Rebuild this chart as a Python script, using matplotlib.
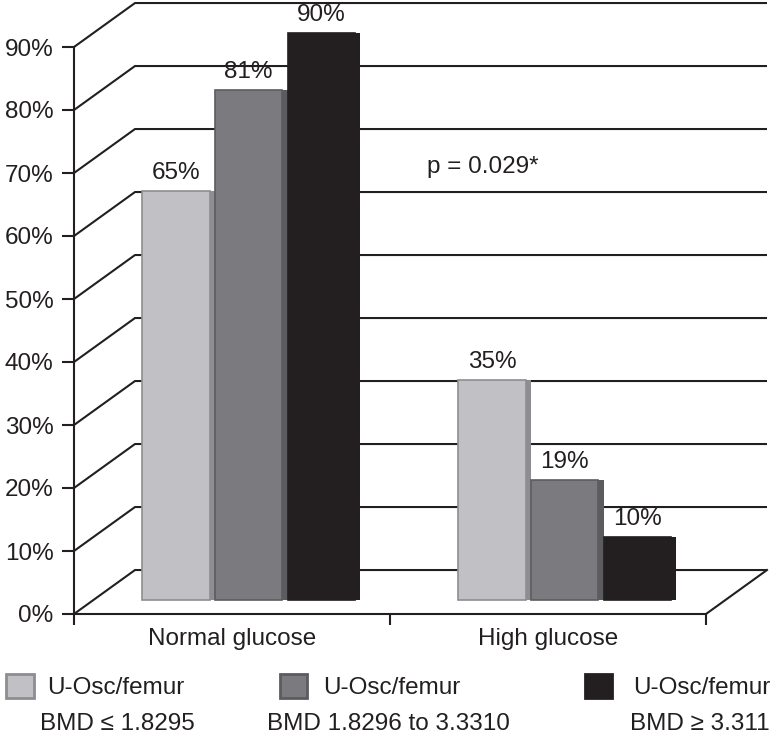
import matplotlib
matplotlib.use("Agg")
import matplotlib.pyplot as plt
from matplotlib.patches import Rectangle

plt.rcParams['font.family'] = ['Liberation Sans', 'DejaVu Sans']

# ---------------- data ----------------
categories = ['Normal glucose', 'High glucose']
series_line1 = ['U-Osc/femur', 'U-Osc/femur', 'U-Osc/femur']
series_line2 = ['BMD \u2264 1.8295', 'BMD 1.8296 to 3.3310', 'BMD \u2265 3.311']
values_low = [65, 35]
values_mid = [81, 19]
values_high = [90, 10]
y_ticks = [0, 10, 20, 30, 40, 50, 60, 70, 80, 90]
y_tick_labels = ['0%', '10%', '20%', '30%', '40%', '50%', '60%', '70%', '80%', '90%']
p_text = 'p = 0.029*'

# ---------------- style ----------------
INK = '#231f20'
face_colors = ['#c1c1c5', '#7b7b7f', '#231f20']
side_colors = ['#8e8e92', '#5c5c60', '#231f20']
FS = 17.5
LW = 1.5

W, H = 773, 739
fig = plt.figure(figsize=(W / 100, H / 100), dpi=100)
ax = fig.add_axes([74 / W, (H - 614) / H, 632 / W, 567 / H])
ax.set_xlim(0, 2)
ax.set_ylim(0, 90)

# pseudo-3D depth (data units)
DX, DY = 0.193, 6.98
BAR_DEPTH = 0.318
bdx, bdy = DX * BAR_DEPTH, DY * BAR_DEPTH

# back wall gridlines with diagonal connectors
for y in y_ticks:
    ax.plot([0, DX, 2 + DX], [y, y + DY, y + DY], color=INK, lw=LW,
            clip_on=False, zorder=1, solid_capstyle='butt')
# floor right edge
ax.plot([2, 2 + DX], [0, DY], color=INK, lw=LW, clip_on=False, zorder=1)

# bars
SLOT = 0.23
FACE = 0.213
series = [values_low, values_mid, values_high]
centers = [0.5, 1.5]
for i, vals in enumerate(series):
    for g, c in enumerate(centers):
        left = c + (i - 1) * SLOT - SLOT / 2 + bdx
        v = vals[g]
        ax.bar(left, v, width=SLOT, bottom=bdy, align='edge',
               color=side_colors[i], lw=0, zorder=3, clip_on=False)
        ax.bar(left, v, width=FACE, bottom=bdy, align='edge',
               color=face_colors[i], edgecolor=side_colors[i], lw=1.2, zorder=4,
               clip_on=False)
        ax.annotate(f'{v}%', xy=(left + FACE / 2, v + bdy), xytext=(0, 5),
                    textcoords='offset points', ha='center', va='bottom',
                    fontsize=FS, color=INK, zorder=5, annotation_clip=False)

ax.text(1.294, 71, p_text, ha='center', va='center', fontsize=FS, color=INK)

# axes styling
for s in ['top', 'right']:
    ax.spines[s].set_visible(False)
for s in ['left', 'bottom']:
    ax.spines[s].set_color(INK)
    ax.spines[s].set_linewidth(LW)
ax.spines['left'].set_zorder(6)
ax.set_yticks(y_ticks)
ax.set_yticklabels(y_tick_labels, fontsize=FS, color=INK)
ax.tick_params(axis='y', length=8.6, width=LW, color=INK, pad=6)
ax.set_xticks(centers)
ax.set_xticklabels(categories, fontsize=FS, color=INK)
ax.set_xticks([0, 1, 2], minor=True)
ax.tick_params(axis='x', which='major', length=0, pad=10)
ax.tick_params(axis='x', which='minor', length=8, width=LW, color=INK)
ax.patch.set_visible(False)

# legend (manual, figure coordinates)
def fx(px):
    return px / W

def fy(py):
    return 1 - py / H

sq_left = [5, 278, 583]
txt1_x = [47, 323, 770]
txt2_x = [40, 267, 770]
aligns = ['left', 'left', 'right']
for i in range(3):
    fig.add_artist(Rectangle((fx(sq_left[i] + 1.5), fy(699 - 1.5)), 27 / W, 24 / H,
                             transform=fig.transFigure, facecolor=face_colors[i],
                             edgecolor=side_colors[i], lw=2))
    fig.text(fx(txt1_x[i]), fy(688), series_line1[i], fontsize=FS, color=INK,
             ha=aligns[i], va='center')
    fig.text(fx(txt2_x[i]), fy(724), series_line2[i], fontsize=FS, color=INK,
             ha=aligns[i], va='center')

fig.savefig('out.png', dpi=100)
